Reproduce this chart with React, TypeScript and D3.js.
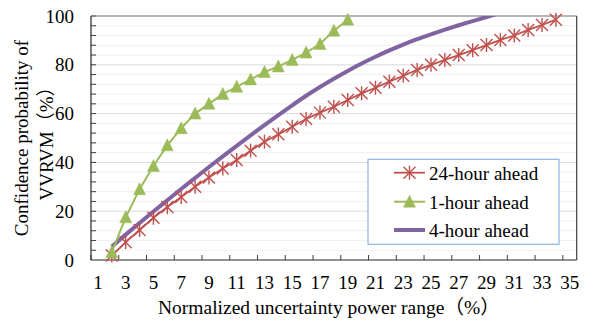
import React from 'react';
import * as d3 from 'd3';

const categories = ['1','2','3','4','5','6','7','8','9','10','11','12','13','14','15','16','17','18','19','20','21','22','23','24','25','26','27','28','29','30','31','32','33','34','35'];
const xTickLabels = ['1','3','5','7','9','11','13','15','17','19','21','23','25','27','29','31','33','35'];
const yTickLabels = [0, 20, 40, 60, 80, 100];

const seriesNames = ['24-hour ahead', '1-hour ahead', '4-hour ahead'];

// values per category (null = no point)
const ahead24 = [null, 1.8, 7.3, 12.3, 17.3, 21.7, 25.8, 30.0, 33.8, 37.5, 41.0, 44.8, 48.5, 51.5, 54.6, 57.8, 60.4, 62.8, 65.6, 68.3, 70.6, 73.1, 75.5, 77.9, 80.0, 82.0, 84.0, 86.0, 88.1, 90.2, 92.0, 94.3, 96.3, 98.5, null];
const ahead1 = [null, 3.2, 17.5, 29.0, 38.5, 47.0, 54.0, 60.0, 64.0, 68.0, 71.0, 74.0, 77.0, 79.3, 82.0, 85.0, 88.5, 94.0, 98.5, null, null, null, null, null, null, null, null, null, null, null, null, null, null, null, null];
const ahead4 = [null, 5.5, 10.4, 15.2, 19.9, 24.5, 29.1, 33.6, 38.1, 42.5, 46.8, 51.1, 55.3, 59.4, 63.4, 67.3, 70.9, 74.3, 77.5, 80.5, 83.3, 85.9, 88.3, 90.5, 92.5, 94.4, 96.2, 97.9, 99.6, 101.3, null, null, null, null, null];

const RED = '#c0504d';
const GREEN = '#9bbb59';
const PURPLE = '#8064a2';
const FONT = '"Liberation Serif", "Times New Roman", "Noto Sans CJK SC", serif';

const W = 594, H = 321;
const L = 91, R = 576.7, T = 16, B = 260;

function Star({ x, y, s = 6 }: { x: number; y: number; s?: number }) {
  return (
    <g stroke={RED} strokeWidth={1.4} fill="none">
      <line x1={x - s} y1={y - s} x2={x + s} y2={y + s} />
      <line x1={x - s} y1={y + s} x2={x + s} y2={y - s} />
      <line x1={x} y1={y - s - 1} x2={x} y2={y + s + 1} />
    </g>
  );
}

function Tri({ x, y }: { x: number; y: number }) {
  return <polygon points={`${x},${y - 6.5} ${x - 6},${y + 5.5} ${x + 6},${y + 5.5}`} fill={GREEN} stroke={GREEN} strokeWidth={0.5} />;
}

export default function App() {
  const x = d3.scaleBand<string>().domain(categories).range([L, R]).paddingInner(0).paddingOuter(0);
  const bw = x.bandwidth();
  const cx = (c: string) => (x(c) as number) + bw / 2;
  const y = d3.scaleLinear().domain([0, 100]).range([B, T]);

  const toPts = (vals: (number | null)[]) =>
    categories.map((c, i) => ({ c, v: vals[i] })).filter(d => d.v !== null) as { c: string; v: number }[];

  const redPts = toPts(ahead24);
  const greenPts = toPts(ahead1);
  const purplePts = toPts(ahead4);

  const line = d3.line<{ c: string; v: number }>().x(d => cx(d.c)).y(d => y(d.v));
  const smooth = d3.line<{ c: string; v: number }>().x(d => cx(d.c)).y(d => y(d.v)).curve(d3.curveMonotoneX);

  const minorTicks = d3.range(4, 101, 4);
  const xTickBoundaries = d3.range(0, 35, 2);

  const legendRows = [172.7, 201.7, 230];

  return (
    <svg width={W} height={H} style={{ position: 'absolute', left: 0, top: 0, background: '#fff' }} fontFamily={FONT}>
      <defs>
        <clipPath id="plotclip">
          <rect x={L} y={T} width={R - L} height={B - T} />
        </clipPath>
      </defs>
      <rect x={0} y={0} width={W} height={H} fill="#fff" />
      {/* gridlines */}
      {minorTicks.map(t => (
        <line key={'g' + t} x1={L} x2={R} y1={y(t)} y2={y(t)} stroke={t % 20 === 0 ? '#d9d9d9' : '#f0f0f0'} strokeWidth={1} />
      ))}
      {/* y ticks inward */}
      {minorTicks.map(t => (
        <line key={'yt' + t} x1={L} x2={L + 5} y1={y(t)} y2={y(t)} stroke="#404040" strokeWidth={1} />
      ))}
      {/* x ticks inward */}
      {xTickBoundaries.map(k => (
        <line key={'xt' + k} x1={L + k * bw} x2={L + k * bw} y1={B} y2={B - 5} stroke="#404040" strokeWidth={1} />
      ))}
      {/* frame */}
      <line x1={L} x2={R} y1={T} y2={T} stroke="#7f7f7f" strokeWidth={1.2} />
      <line x1={R} x2={R} y1={T} y2={B} stroke="#404040" strokeWidth={1.2} />
      <line x1={L} x2={L} y1={T} y2={B} stroke="#262626" strokeWidth={1.2} />
      <line x1={L} x2={R} y1={B} y2={B} stroke="#262626" strokeWidth={1.2} />

      {/* series */}
      <path d={smooth(purplePts) || ''} fill="none" stroke={PURPLE} strokeWidth={4} clipPath="url(#plotclip)" />
      <path d={line(redPts) || ''} fill="none" stroke={RED} strokeWidth={1.8} />
      {redPts.map(d => <Star key={'r' + d.c} x={cx(d.c)} y={y(d.v)} />)}
      <path d={line(greenPts) || ''} fill="none" stroke={GREEN} strokeWidth={2} />
      {greenPts.map(d => <Tri key={'g' + d.c} x={cx(d.c)} y={y(d.v)} />)}

      {/* y labels */}
      {yTickLabels.map(t => (
        <text key={'yl' + t} x={74} y={y(t)} dy="0.35em" textAnchor="end" fontSize={19} fill="#000">{t}</text>
      ))}
      {/* x labels */}
      {xTickLabels.map(l => (
        <text key={'xl' + l} x={cx(l)} y={289} textAnchor="middle" fontSize={19} fill="#000">{l}</text>
      ))}
      {/* axis titles */}
      <text x={158} y={314} fontSize={19.5} fill="#000">Normalized uncertainty power range（%）</text>
      <g transform="rotate(-90)">
        <text x={-138} y={28} textAnchor="middle" fontSize={19} fill="#000">Confidence probability of</text>
        <text x={-139} y={52.5} textAnchor="middle" fontSize={19} fill="#000">VVRVM（%）</text>
      </g>

      {/* legend */}
      <rect x={368} y={159.3} width={191} height={85} fill="#fff" stroke="#8eb4e3" strokeWidth={1.2} />
      <line x1={394} x2={425} y1={legendRows[0]} y2={legendRows[0]} stroke={RED} strokeWidth={1.8} />
      <Star x={409.5} y={legendRows[0]} />
      <line x1={394} x2={425} y1={legendRows[1]} y2={legendRows[1]} stroke={GREEN} strokeWidth={2} />
      <Tri x={409.5} y={legendRows[1]} />
      <line x1={394} x2={425} y1={legendRows[2]} y2={legendRows[2]} stroke={PURPLE} strokeWidth={4} />
      {seriesNames.map((n, i) => (
        <text key={n} x={429} y={legendRows[i] + 7} fontSize={19} fill="#000">{n}</text>
      ))}
    </svg>
  );
}
